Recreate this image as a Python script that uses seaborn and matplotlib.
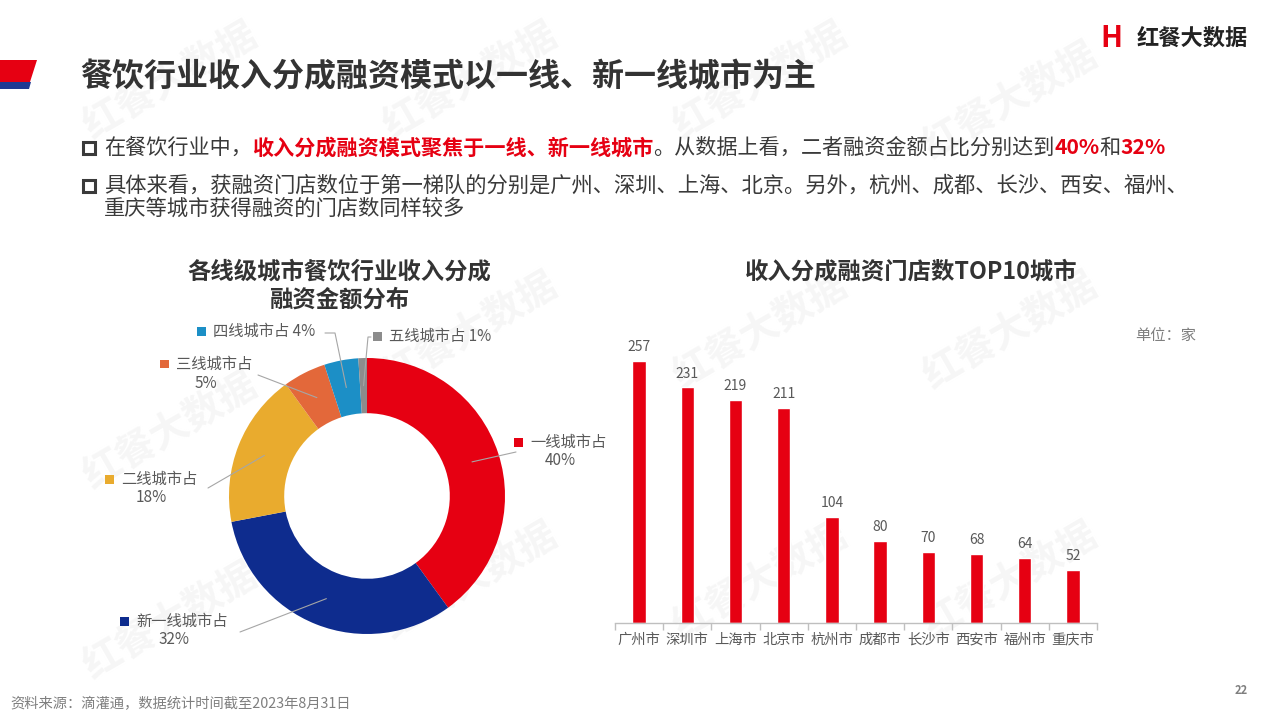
import numpy as np
import pandas as pd
import matplotlib
matplotlib.use("Agg")
import matplotlib.pyplot as plt
import seaborn as sns
from matplotlib.patches import Polygon, Rectangle

# 数据
tiers = ["一线城市占", "新一线城市占", "二线城市占", "三线城市占", "四线城市占", "五线城市占"]
tier_share = [40, 32, 18, 5, 4, 1]
tier_colors = ["#E60012", "#0E2C8E", "#E9AB2E", "#E3683A", "#1C8FC6", "#8C8C8C"]

cities = ["广州市", "深圳市", "上海市", "北京市", "杭州市", "成都市", "长沙市", "西安市", "福州市", "重庆市"]
store_counts = [257, 231, 219, 211, 104, 80, 70, 68, 64, 52]

RED = "#E60012"
DARK = "#3A3A3A"
GRAY = "#595959"

sns.set_theme(style="white")
plt.rcParams['font.family'] = ['Noto Sans CJK SC', 'DejaVu Sans']

W, H = 1280, 720
fig = plt.figure(figsize=(12.8, 7.2), dpi=100)
fig.patch.set_facecolor("white")


def fx(px):
    return px / W


def fy(py):
    return 1 - py / H


# 背景水印（放在最底层的坐标系里）
bg = fig.add_axes([0, 0, 1, 1], zorder=-10)
bg.set_xlim(0, W)
bg.set_ylim(H, 0)
bg.axis("off")
for wx, wy in [(170, 80), (470, 80), (760, 80), (1010, 100),
               (170, 430), (470, 330), (760, 330), (1010, 330),
               (170, 620), (470, 580), (760, 580), (1010, 580)]:
    bg.text(wx, wy, "红餐大数据", fontsize=28, color="#F6F6F6",
            rotation=30, ha="center", va="center", fontweight="bold")

# 标题装饰条
fig.patches.append(Polygon([(fx(0), fy(60)), (fx(37), fy(60)), (fx(30), fy(82)), (fx(0), fy(82))],
                           closed=True, transform=fig.transFigure, facecolor=RED, edgecolor="none"))
fig.patches.append(Polygon([(fx(0), fy(82)), (fx(31), fy(82)), (fx(29), fy(89)), (fx(0), fy(89))],
                           closed=True, transform=fig.transFigure, facecolor="#1F3A93", edgecolor="none"))

fig.text(fx(80), fy(77), "餐饮行业收入分成融资模式以一线、新一线城市为主", fontsize=23,
         fontweight="bold", color="#333333", va="center", ha="left")

# logo
fig.text(fx(1100), fy(38), "H", fontsize=21, fontweight="bold", fontstyle="italic",
         color=RED, va="center", ha="left")
fig.text(fx(1137), fy(38), "红餐大数据", fontsize=16, fontweight="bold", color="#222222",
         va="center", ha="left")

renderer = fig.canvas.get_renderer()


def bullet(y_px):
    fig.patches.append(Rectangle((fx(83), fy(y_px + 6)), 12 / W, 12 / H, transform=fig.transFigure,
                                 facecolor="none", edgecolor=DARK, linewidth=2.2))


def rich_line(x_px, y_px, runs, size=15.2):
    x = x_px
    for txt, col, bold in runs:
        t = fig.text(fx(x), fy(y_px), txt, fontsize=size, color=col,
                     fontweight="bold" if bold else "normal", va="center", ha="left")
        bb = t.get_window_extent(renderer=renderer)
        x += bb.width


bullet(148)
rich_line(104, 148, [("在餐饮行业中，", DARK, False),
                     ("收入分成融资模式聚焦于一线、新一线城市", RED, True),
                     ("。从数据上看，二者融资金额占比分别达到", DARK, False),
                     ("40%", RED, True), ("和", DARK, False), ("32%", RED, True)])
bullet(186)
rich_line(104, 186, [("具体来看，获融资门店数位于第一梯队的分别是广州、深圳、上海、北京。另外，杭州、成都、长沙、西安、福州、", DARK, False)],
          size=15.35)
rich_line(104, 209, [("重庆等城市获得融资的门店数同样较多", DARK, False)], size=15.35)

# 左图标题
fig.text(fx(339), fy(272), "各线级城市餐饮行业收入分成", fontsize=16.8, fontweight="bold",
         color="#333333", ha="center", va="center")
fig.text(fx(339), fy(300), "融资金额分布", fontsize=16.8, fontweight="bold",
         color="#333333", ha="center", va="center")

# 环形图
cx, cy, R = 367, 496, 138
half = 150
ax1 = fig.add_axes([fx(cx - half), fy(cy + half), half * 2 / W, half * 2 / H])
wedges, _ = ax1.pie(tier_share, colors=tier_colors, startangle=90, counterclock=False,
                    radius=1, wedgeprops=dict(width=0.4, edgecolor="none"))
lim = half / R
ax1.set_xlim(-lim, lim)
ax1.set_ylim(-lim, lim)
ax1.set_aspect("equal")
ax1.axis("off")


def to_data(px, py):
    return (px - cx) / R, (cy - py) / R


# 标签布局: (文字x, 第一行y, 第二行, 折点x, 折点y)
label_layout = [
    (530, 442, "40%", 516, 452),
    (136, 621, "32%", 240, 632),
    (121, 479, "18%", 208, 488),
    (176, 364, "5%", 258, 375),
    (213, 331, None, 335, 333),
    (389, 336, None, 368, 337),
]
cum = 0
for i, (name, val) in enumerate(zip(tiers, tier_share)):
    mid = np.deg2rad(90 - (cum + val / 2) * 3.6)
    cum += val
    ax_, ay_ = 0.8 * np.cos(mid), 0.8 * np.sin(mid)
    tx, ty, second, ex, ey = label_layout[i]
    ex_d, ey_d = to_data(ex, ey)
    if second is None:
        end = ex - 10 if i == 4 else ex + 3
        pts_x = [ax_, ex_d, to_data(end, ey)[0]]
        pts_y = [ay_, ey_d, ey_d]
    else:
        pts_x = [ax_, ex_d]
        pts_y = [ay_, ey_d]
    ax1.plot(pts_x, pts_y, color="#A6A6A6", lw=0.8, clip_on=False)
    fig.patches.append(Rectangle((fx(tx - 16), fy(ty + 4.5)), 9 / W, 9 / H, transform=fig.transFigure,
                                 facecolor=tier_colors[i], edgecolor="none"))
    if second is None:
        fig.text(fx(tx), fy(ty), f"{name} {val}%", fontsize=11, color=GRAY, ha="left", va="center")
    else:
        t = fig.text(fx(tx), fy(ty), name, fontsize=11, color=GRAY, ha="left", va="center")
        bb = t.get_window_extent(renderer=renderer)
        fig.text(fx((bb.x0 + bb.x1) / 2 - 8), fy(ty + 19), second, fontsize=11, color=GRAY,
                 ha="center", va="center")

# 右图
fig.text(fx(911), fy(272), "收入分成融资门店数TOP10城市", fontsize=16.8, fontweight="bold",
         color="#333333", ha="center", va="center")
fig.text(fx(1196), fy(335), "单位：家", fontsize=11, color="#7F7F7F", ha="right", va="center")

scale = 1.0195
ymax = 300
ax2 = fig.add_axes([fx(615), fy(623), (1097 - 615) / W, ymax * scale / H])
df = pd.DataFrame({"city": cities, "count": store_counts})
sns.barplot(data=df, x="city", y="count", color=RED, width=0.28, saturation=1, ax=ax2)
for p, v in zip(ax2.patches, store_counts):
    ax2.annotate(str(v), (p.get_x() + p.get_width() / 2, v), xytext=(0, 5),
                 textcoords="offset points", ha="center", va="bottom", fontsize=10, color=GRAY)
ax2.set_xlim(-0.5, len(cities) - 0.5)
ax2.set_ylim(0, ymax)
ax2.set_xlabel("")
ax2.set_ylabel("")
ax2.set_yticks([])
for s in ["top", "right", "left"]:
    ax2.spines[s].set_visible(False)
ax2.spines["bottom"].set_color("#BFBFBF")
ax2.spines["bottom"].set_linewidth(1)
ax2.set_xticks(range(len(cities)))
ax2.set_xticklabels(cities, fontsize=10.3, color=GRAY)
ax2.tick_params(axis="x", length=0, pad=7)
ax2.set_xticks(np.arange(-0.5, len(cities), 1), minor=True)
ax2.tick_params(axis="x", which="minor", length=5, color="#BFBFBF", width=1, bottom=True)
ax2.set_facecolor("none")

# 页脚
fig.text(fx(10), fy(704), "资料来源：滴灌通，数据统计时间截至2023年8月31日", fontsize=10.3,
         color="#7F7F7F", ha="left", va="center")
fig.text(fx(1248), fy(690), "22", fontsize=8, color="#7F7F7F", ha="right", va="center",
         fontweight="bold")

fig.savefig("out.png", dpi=100, facecolor="white")
